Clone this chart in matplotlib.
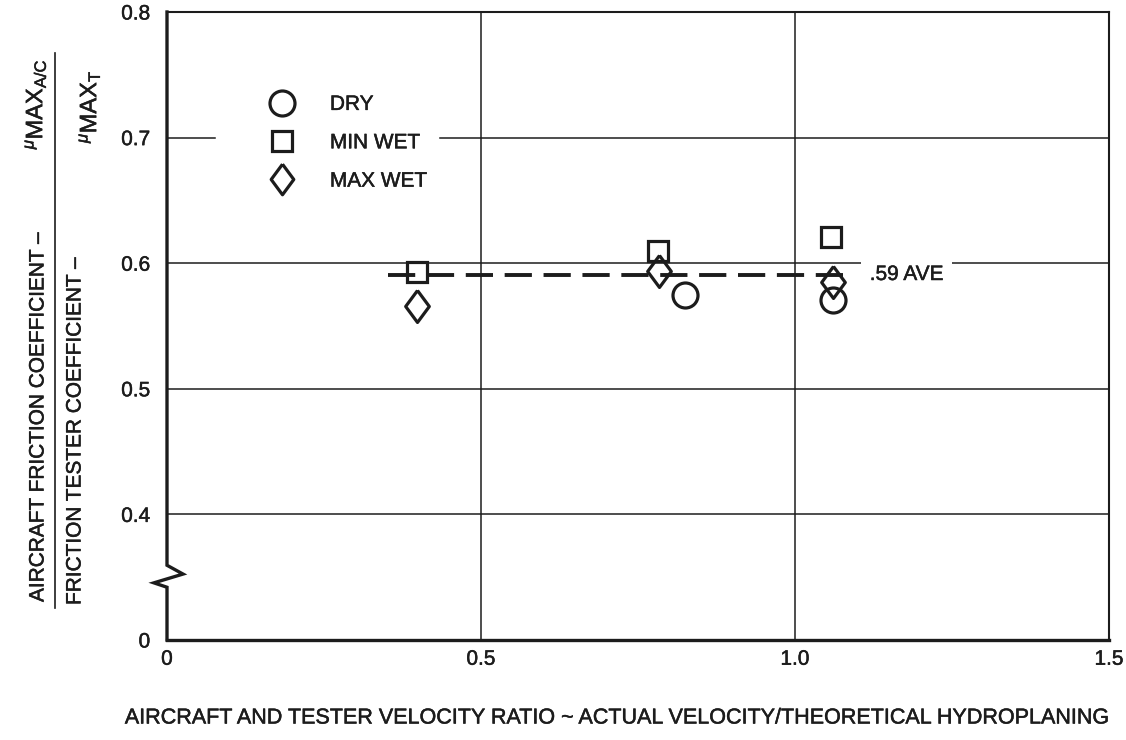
import matplotlib
matplotlib.use('Agg')
import matplotlib.pyplot as plt
import matplotlib.patheffects as pe
from matplotlib.lines import Line2D

plt.rcParams['font.family'] = ['Liberation Sans', 'DejaVu Sans']
plt.rcParams['mathtext.fontset'] = 'custom'
plt.rcParams['mathtext.rm'] = 'Liberation Sans'
plt.rcParams['mathtext.it'] = 'Liberation Sans:italic'

ink = '#1c1c1c'
# scanned lettering is a little heavier than the regular face
heavy = [pe.withStroke(linewidth=0.35, foreground=ink)]

# data
dry_x = [0.825, 1.06]
dry_y = [0.575, 0.571]
minwet_x = [0.398, 0.782, 1.057]
minwet_y = [0.593, 0.610, 0.621]
maxwet_x = [0.398, 0.783, 1.06]
maxwet_y = [0.566, 0.594, 0.585]
ave_x = [0.352, 1.086]
ave_y = 0.591

yticks = [0.3, 0.4, 0.5, 0.6, 0.7, 0.8]
ytick_labels = ['0', '0.4', '0.5', '0.6', '0.7', '0.8']
xticks = [0, 0.5, 1.0, 1.5]
xtick_labels = ['0', '0.5', '1.0', '1.5']

# diamond, taller than wide
diamond = [(0, 1), (0.74, 0), (0, -1), (-0.74, 0), (0, 1)]

fig = plt.figure(figsize=(11.26, 7.4), dpi=100)
ax = fig.add_axes([167/1126, 1 - 640/740, 942/1126, 628/740])
ax.set_xlim(0, 1.5)
ax.set_ylim(0.3, 0.8)

# grid
for gy in [0.4, 0.5, 0.6]:
    ax.axhline(gy, color=ink, lw=1.1, zorder=1)
ax.axhline(0.7, xmin=0, xmax=0.051, color=ink, lw=1.1, zorder=1)
ax.axhline(0.7, xmin=0.290, xmax=1, color=ink, lw=1.1, zorder=1)
for gx in [0.5, 1.0]:
    ax.axvline(gx, color=ink, lw=1.1, zorder=1)

# average line
avl, = ax.plot(ave_x, [ave_y, ave_y], color=ink, lw=2.8, zorder=2)
avl.set_dashes((7.0, 3.0))
ax.text(1.119, ave_y, '.59 AVE', fontsize=15, color=ink, va='center', ha='left',
        bbox=dict(boxstyle='square,pad=0.4', fc='white', ec='none'),
        zorder=3, path_effects=heavy)

mk = dict(linestyle='none', mfc='none', mec=ink, mew=2.3, zorder=4)
ax.plot(dry_x, dry_y, marker='o', ms=18, **mk)
ax.plot(minwet_x, minwet_y, marker='s', ms=15, **mk)
ax.plot(maxwet_x, maxwet_y, marker=diamond, ms=23, **mk)

handles = [
    Line2D([], [], marker='o', ms=18, **mk),
    Line2D([], [], marker='s', ms=15, **mk),
    Line2D([], [], marker=diamond, ms=22, **mk),
]
leg = ax.legend(handles, ['DRY', 'MIN WET', 'MAX WET'], loc='upper left',
                bbox_to_anchor=(0.1066, 0.868), frameon=False, fontsize=15,
                handlelength=1.4, handletextpad=1.6, labelspacing=0.93,
                borderpad=0, borderaxespad=0, labelcolor=ink)
for t in leg.get_texts():
    t.set_path_effects(heavy)

# spines, left one with break
ax.spines['left'].set_visible(False)
ax.spines['bottom'].set_linewidth(2.4)
ax.spines['top'].set_linewidth(1.5)
ax.spines['right'].set_linewidth(1.5)
for s in ['bottom', 'top', 'right']:
    ax.spines[s].set_color(ink)
brk_x = [0, 0, 0.017, -0.0139, 0, 0]
brk_y = [1, 0.119, 0.105, 0.091, 0.084, 0]
ax.plot(brk_x, brk_y, transform=ax.transAxes, color=ink, lw=2.4,
        clip_on=False, solid_joinstyle='miter', zorder=5)

ax.set_yticks(yticks)
ax.set_yticklabels(ytick_labels)
ax.set_xticks(xticks)
ax.set_xticklabels(xtick_labels)
ax.tick_params(axis='y', length=0, pad=12, labelsize=15, labelcolor=ink)
ax.tick_params(axis='x', length=0, pad=7, labelsize=15, labelcolor=ink)
for t in ax.get_xticklabels() + ax.get_yticklabels():
    t.set_path_effects(heavy)

# x label
fig.text(616/1126, 1 - 718/740,
         'AIRCRAFT AND TESTER VELOCITY RATIO ~ ACTUAL VELOCITY/THEORETICAL HYDROPLANING',
         ha='center', va='center', fontsize=15.5, color=ink, path_effects=heavy)

# y label as a fraction
fig.text(38/1126, 1 - 602/740, 'AIRCRAFT FRICTION COEFFICIENT \u2013', rotation=90,
         ha='center', va='bottom', fontsize=15, color=ink, path_effects=heavy)
fig.text(35/1126, 1 - 59/740, r'$^{\mu}\mathrm{MAX}_{\mathrm{A/C}}$', rotation=90,
         ha='center', va='top', fontsize=17, color=ink, path_effects=heavy)
fig.text(75/1126, 1 - 605/740, 'FRICTION TESTER COEFFICIENT \u2013', rotation=90,
         ha='center', va='bottom', fontsize=15, color=ink, path_effects=heavy)
fig.text(89/1126, 1 - 70/740, r'$^{\mu}\mathrm{MAX}_{\mathrm{T}}$', rotation=90,
         ha='center', va='top', fontsize=17, color=ink, path_effects=heavy)
fig.add_artist(Line2D([55/1126, 55/1126], [1 - 53/740, 1 - 608/740],
                      color=ink, lw=1.2))

fig.savefig('out.png', dpi=100, facecolor='white')
